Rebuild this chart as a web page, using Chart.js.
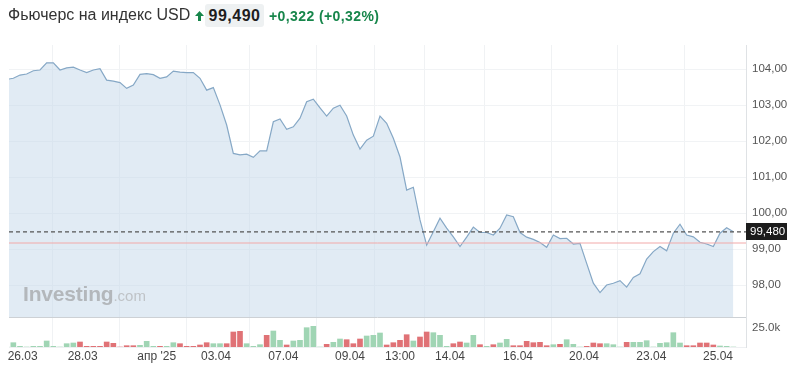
<!DOCTYPE html>
<html><head><meta charset="utf-8">
<script src="https://cdn.jsdelivr.net/npm/chart.js@4.4.1/dist/chart.umd.min.js"></script>
<style>
html,body{margin:0;padding:0;background:#fff;width:800px;height:372px;overflow:hidden;font-family:"Liberation Sans",Arial,sans-serif;}
#wrap{position:relative;width:800px;height:372px;}
canvas{position:absolute;left:0;top:0;}
.t{position:absolute;white-space:nowrap;}
#title{left:8px;top:7px;height:16px;line-height:16px;font-size:16px;color:#333;}
#arrow{position:absolute;left:195px;top:11px;}
#last{left:205px;top:4px;width:59px;height:23px;line-height:23px;font-size:16px;font-weight:bold;color:#1e1e1e;background:#eef1f2;border-radius:3px;text-align:center;letter-spacing:0.5px;}
#chg{left:269px;top:9px;height:14px;line-height:14px;font-size:14px;font-weight:bold;color:#17864b;letter-spacing:0.4px;}
#wm{left:23px;top:283px;height:21px;line-height:21px;color:#b3b7bb;z-index:2;}
#wm .b{font-size:21px;font-weight:bold;letter-spacing:-0.2px;}
#wm .c{font-size:15px;color:#bfc3c7;}
</style></head><body>
<div id="wrap">
<canvas id="c" width="800" height="372"></canvas>
<div class="t" id="title">Фьючерс на индекс USD</div>
<svg id="arrow" width="9" height="10" viewBox="0 0 9 10"><path d="M4.5 0 L9 5 L6 5 L6 10 L3 10 L3 5 L0 5 Z" fill="#17864b"/></svg>
<div class="t" id="last">99,490</div>
<div class="t" id="chg">+0,322 (+0,32%)</div>
<div class="t" id="wm"><span class="b">Investing</span><span class="c">.com</span></div>
</div>
<script>
// ---- data ----
const prices = [
103.72,103.75,103.84,103.87,103.96,103.98,104.18,104.18,103.98,104.04,
104.06,103.98,103.91,103.98,104.02,103.70,103.67,103.63,103.47,103.56,
103.86,103.88,103.85,103.75,103.79,103.95,103.92,103.91,103.91,103.75,
103.42,103.49,103.01,102.45,101.66,101.62,101.64,101.55,101.73,101.73,
102.54,102.62,102.33,102.40,102.64,103.10,103.17,102.93,102.70,102.92,
103.00,102.70,102.17,101.78,102.03,102.14,102.70,102.50,102.08,101.56,
100.64,100.72,99.81,99.11,99.48,99.86,99.58,99.34,99.07,99.33,
99.61,99.46,99.46,99.39,99.58,99.95,99.90,99.46,99.33,99.27,
99.18,99.05,99.39,99.29,99.30,99.14,99.16,98.60,98.05,97.79,
98.00,98.05,98.12,97.94,98.21,98.31,98.72,98.93,99.07,98.95,
99.44,99.69,99.39,99.34,99.19,99.14,99.07,99.44,99.59,99.48];
const volumes = [
0,5.6,0.9,0,0.9,0.9,7.8,0.9,0,4.3,
5.2,6.5,0.9,0.9,0.9,6.5,4.8,0,1.7,1.7,
2.2,7.4,0.9,0.9,0.9,5.6,4.3,0.9,0.9,2.6,
5.6,4.3,4.3,4.3,19.5,20.4,4.3,0.9,3.0,15.2,
20.8,8.7,2.6,7.8,8.7,25.1,26.9,0,3.5,6.1,
10.4,9.5,4.3,10.4,14.3,15.2,18.2,2.6,5.6,8.7,
16.0,7.8,13.0,19.5,18.6,15.2,0.9,4.3,6.5,5.2,
15.2,3.0,0.9,3.0,5.2,10.0,1.7,1.7,7.4,5.6,
6.1,1.7,3.0,3.5,9.5,3.5,0,0.9,5.2,4.3,
4.3,3.0,0,6.1,6.1,6.1,8.2,0,4.8,5.6,
18.6,5.2,1.7,1.7,5.2,5.2,2.6,1.3,0.9,0];
const volDir = ("uuuuuuuuuuu"+"ddddddddd"+"uuuduu"+"ddddd"+"uuddd"+"uuuduuduuuuuduu"+
  "ddduuuddddudduuudduududuu"+"dddddduduuuddduuuduuuuuuuudddddu uu").replace(/ /g,'').split('');
const xTickPos = [2.4, 11.4, 22.5, 31.4, 41.5, 51.5, 59, 66.5, 76.7, 86.6, 96.7, 106.7];
const xTickLabels = ["26.03","28.03","апр '25","03.04","07.04","09.04","13:00","14.04","16.04","20.04","23.04","25.04"];
const priceTicks = [98,99,100,101,102,103,104];
const volTicks = [25];
const lastPrice = 99.48;
const prevClose = 99.168;

// ---- view ----
const xMin = 0.35, xMax = 110.9;
const priceMin = 97.11, priceMax = 104.676;
const FONT = '"Liberation Sans", Arial, sans-serif';
Chart.defaults.font.family = FONT;

const priceData = prices.map((p,i)=>({x:i,y:p}));
const volData = volumes.map((v,i)=>({x:i,y:v}));
const volColors = volDir.map(d => d==='u' ? '#a0d5b4' : '#e07276');

const overlay = {
  id:'overlay',
  afterDatasetsDraw(chart){
    const {ctx, chartArea, scales} = chart;
    const yb = Math.round(scales.y.bottom)+0.5;
    ctx.save();
    ctx.strokeStyle = '#cdd1d5'; ctx.lineWidth = 1;
    ctx.beginPath(); ctx.moveTo(chartArea.left, yb); ctx.lineTo(chartArea.right, yb); ctx.stroke();
    ctx.restore();
  },
  afterDraw(chart){
    const {ctx, chartArea, scales} = chart;
    const yp = scales.y.getPixelForValue(lastPrice);
    ctx.save();
    ctx.fillStyle = '#1c1c1c';
    ctx.fillRect(chartArea.right, Math.round(yp-8.5), 41, 17);
    ctx.fillStyle = '#fff';
    ctx.font = '11.5px ' + FONT;
    ctx.textBaseline = 'middle';
    ctx.fillText(lastPrice.toFixed(3).replace('.',','), chartArea.right+4, yp+0.5);
    ctx.restore();
  }
};

new Chart(document.getElementById('c'), {
  type:'line',
  data:{ datasets:[
    { type:'line', data:priceData, yAxisID:'y', borderColor:'#86a8c6', borderWidth:1.2,
      fill:'start', backgroundColor:'rgba(196,216,234,0.5)', pointRadius:0, tension:0, order:3 },
    { type:'line', data:[{x:xMin,y:prevClose},{x:xMax,y:prevClose}], yAxisID:'y',
      borderColor:'#f2a9a9', borderWidth:1, pointRadius:0, fill:false, order:1 },
    { type:'line', data:[{x:xMin,y:lastPrice},{x:xMax,y:lastPrice}], yAxisID:'y',
      borderColor:'#555', borderWidth:1.2, borderDash:[4,3], pointRadius:0, fill:false, order:0 },
    { type:'bar', data:volData, yAxisID:'yv', backgroundColor:volColors, barThickness:5, order:2 }
  ]},
  options:{
    responsive:false, animation:false, devicePixelRatio:1,
    layout:{ padding:{ left:9, top:45, right:0, bottom:0 } },
    plugins:{ legend:{display:false}, tooltip:{enabled:false} },
    scales:{
      x:{ type:'linear', min:xMin, max:xMax, offset:false,
        afterBuildTicks: s => { s.ticks = xTickPos.map(v=>({value:v})); },
        afterFit: s => { s.height = 25; },
        ticks:{ autoSkip:false, maxRotation:0, padding:2, color:'#444', font:{size:12},
          callback:(v,i)=> xTickLabels[i] },
        grid:{ color:'#f0f2f4', drawTicks:false },
        border:{ display:true, color:'#eef0f2' }
      },
      y:{ type:'linear', position:'right', stack:'s', stackWeight:272, min:priceMin, max:priceMax,
        afterBuildTicks: s => { s.ticks = priceTicks.map(v=>({value:v})); },
        afterFit: s => { s.width = 54; },
        ticks:{ padding:6, color:'#555', font:{size:11.5}, callback: v => Number(v).toFixed(2).replace('.',',') },
        grid:{ color:'#f1f3f5', drawTicks:false },
        border:{ color:'#dfe2e5' }
      },
      yv:{ type:'linear', position:'right', stack:'s', stackWeight:30, min:0, max:39,
        afterBuildTicks: s => { s.ticks = volTicks.map(v=>({value:v})); },
        afterFit: s => { s.width = 54; },
        ticks:{ padding:6, color:'#555', font:{size:11.5}, callback: v => Number(v).toFixed(1)+'k' },
        grid:{ display:false, drawTicks:false },
        border:{ color:'#dfe2e5' }
      }
    }
  },
  plugins:[overlay]
});
</script>
</body></html>
